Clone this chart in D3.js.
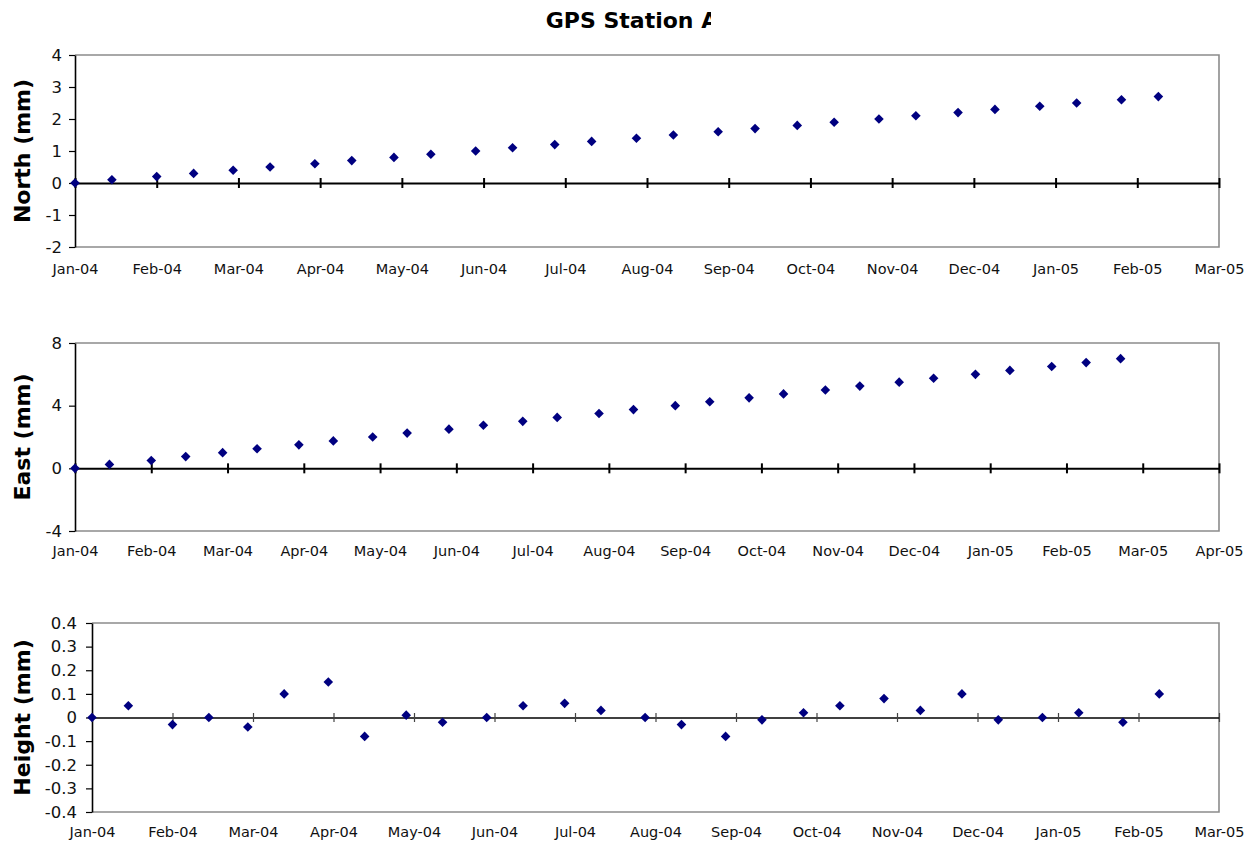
<!DOCTYPE html>
<html>
<head>
<meta charset="utf-8">
<script src="https://cdn.jsdelivr.net/npm/d3@7/dist/d3.min.js"></script>
<style>
  html, body { margin: 0; padding: 0; background: #fff; }
  svg { display: block; font-family: "DejaVu Sans", Verdana, sans-serif; }
</style>
</head>
<body>
<svg id="chart" width="1256" height="842"></svg>
<script>
// ---------------- DATA ----------------
const chartTitle = "GPS Station A";

// observation dates (1st and 15th of each month)
const datesNH = ["2004-01-01","2004-01-15","2004-02-01","2004-02-15","2004-03-01","2004-03-15",
  "2004-04-01","2004-04-15","2004-05-01","2004-05-15","2004-06-01","2004-06-15",
  "2004-07-01","2004-07-15","2004-08-01","2004-08-15","2004-09-01","2004-09-15",
  "2004-10-01","2004-10-15","2004-11-01","2004-11-15","2004-12-01","2004-12-15",
  "2005-01-01","2005-01-15","2005-02-01","2005-02-15"];
const datesE = ["2004-01-01","2004-01-15","2004-02-01","2004-02-15","2004-03-01","2004-03-15",
  "2004-04-01","2004-04-15","2004-05-01","2004-05-15","2004-06-01","2004-06-15",
  "2004-07-01","2004-07-15","2004-08-01","2004-08-15","2004-09-01","2004-09-15",
  "2004-10-01","2004-10-15","2004-11-01","2004-11-15","2004-12-01","2004-12-15",
  "2005-01-01","2005-01-15","2005-02-01","2005-02-15","2005-03-01"];

const northValues = [0, 0.1, 0.2, 0.3, 0.4, 0.5, 0.6, 0.7, 0.8, 0.9, 1.0, 1.1, 1.2, 1.3,
  1.4, 1.5, 1.6, 1.7, 1.8, 1.9, 2.0, 2.1, 2.2, 2.3, 2.4, 2.5, 2.6, 2.7];
const eastValues = [0, 0.25, 0.5, 0.75, 1.0, 1.25, 1.5, 1.75, 2.0, 2.25, 2.5, 2.75, 3.0, 3.25,
  3.5, 3.75, 4.0, 4.25, 4.5, 4.75, 5.0, 5.25, 5.5, 5.75, 6.0, 6.25, 6.5, 6.75, 7.0];
const heightValues = [0, 0.05, -0.03, 0, -0.04, 0.10, 0.15, -0.08, 0.01, -0.02, 0, 0.05,
  0.06, 0.03, 0, -0.03, -0.08, -0.01, 0.02, 0.05, 0.08, 0.03, 0.10, -0.01, 0, 0.02, -0.02, 0.10];

// x tick labels (Excel date axis, major unit 31 days starting 1 Jan 2004)
const xLabelsNH = ["Jan-04","Feb-04","Mar-04","Apr-04","May-04","Jun-04","Jul-04","Aug-04",
  "Sep-04","Oct-04","Nov-04","Dec-04","Jan-05","Feb-05","Mar-05"];
const xLabelsE = ["Jan-04","Feb-04","Mar-04","Apr-04","May-04","Jun-04","Jul-04","Aug-04",
  "Sep-04","Oct-04","Nov-04","Dec-04","Jan-05","Feb-05","Mar-05","Apr-05"];
const axisStart = "2004-01-01";
const majorUnitDays = 31;

// y ticks
const yTicksNorth = [-2, -1, 0, 1, 2, 3, 4];
const yTicksEast = [-4, 0, 4, 8];
const yTicksHeight = [-0.4, -0.3, -0.2, -0.1, 0, 0.1, 0.2, 0.3, 0.4];

const yTitles = ["North (mm)", "East (mm)", "Height (mm)"];

// ---------------- DRAW ----------------
const svg = d3.select("#chart");
const parse = d3.utcParse("%Y-%m-%d");
const start = parse(axisStart);

const panels = [
  { dates: datesNH, values: northValues, xLabels: xLabelsNH, yTicks: yTicksNorth, title: yTitles[0],
    left: 75, right: 1219, top: 55, bottom: 247, titleX: 30, xPad: 17,
    zeroW: 2, tickW: 2, tickColor: "#000", crossTick: 5, labelGap: 13 },
  { dates: datesE, values: eastValues, xLabels: xLabelsE, yTicks: yTicksEast, title: yTitles[1],
    left: 75, right: 1219, top: 343, bottom: 531, titleX: 30, xPad: 15,
    zeroW: 2, tickW: 2, tickColor: "#000", crossTick: 5, labelGap: 13 },
  { dates: datesNH, values: heightValues, xLabels: xLabelsNH, yTicks: yTicksHeight, title: yTitles[2],
    left: 92, right: 1219, top: 623, bottom: 812, titleX: 30, xPad: 15,
    zeroW: 1.5, tickW: 1.2, tickColor: "#444", crossTick: 4.5, labelGap: 15 }
];

const markerColor = "#000080";
const borderColor = "#8c8c8c";

panels.forEach(p => {
  const tickDates = p.xLabels.map((_, i) => d3.utcDay.offset(start, i * majorUnitDays));
  const x = d3.scaleUtc()
    .domain([tickDates[0], tickDates[tickDates.length - 1]])
    .range([p.left, p.right]);
  const y = d3.scaleLinear()
    .domain([p.yTicks[0], p.yTicks[p.yTicks.length - 1]])
    .range([p.bottom, p.top]);

  const g = svg.append("g");

  // frame: top, right, bottom in gray
  g.append("path")
    .attr("d", `M${p.left},${p.top}H${p.right}V${p.bottom}H${p.left}`)
    .attr("fill", "none").attr("stroke", borderColor).attr("stroke-width", 1.6);

  // y axis
  const yAxis = d3.axisLeft(y)
    .tickValues(p.yTicks)
    .tickFormat(v => String(v))
    .tickSizeInner(6).tickSizeOuter(0)
    .tickPadding(p.labelGap - 6);
  const ya = g.append("g").attr("transform", `translate(${p.left},0)`).call(yAxis);
  ya.select(".domain").attr("stroke", "#000").attr("stroke-width", 1.6);
  ya.selectAll(".tick line").attr("stroke", "#000").attr("stroke-width", 1.2);
  ya.selectAll(".tick text").attr("font-size", 16.5).attr("fill", "#111")
    .attr("font-family", "DejaVu Sans, Verdana, sans-serif");

  // zero line with crossing ticks
  const zAxis = d3.axisBottom(x)
    .tickValues(tickDates)
    .tickFormat("")
    .tickSizeInner(p.crossTick).tickSizeOuter(0);
  const za = g.append("g").attr("transform", `translate(0,${y(0)})`).call(zAxis);
  za.select(".domain").attr("stroke", "#000").attr("stroke-width", p.zeroW);
  za.selectAll(".tick line").attr("y1", -p.crossTick)
    .attr("stroke", p.tickColor).attr("stroke-width", p.tickW);

  // x labels at bottom of plot
  const lAxis = d3.axisBottom(x)
    .tickValues(tickDates)
    .tickFormat((d, i) => p.xLabels[i])
    .tickSize(0).tickPadding(p.xPad);
  const la = g.append("g").attr("transform", `translate(0,${p.bottom})`).call(lAxis);
  la.select(".domain").remove();
  la.selectAll(".tick text").attr("font-size", 14.5).attr("fill", "#111")
    .attr("font-family", "DejaVu Sans, Verdana, sans-serif");

  // y title
  g.append("text")
    .attr("transform", `translate(${p.titleX},${(p.top + p.bottom) / 2}) rotate(-90)`)
    .attr("text-anchor", "middle")
    .attr("font-size", 22).attr("font-weight", "bold").attr("fill", "#000")
    .text(p.title);

  // markers
  const r = 4.8;
  g.append("g").selectAll("path")
    .data(p.values.map((v, i) => ({ d: parse(p.dates[i]), v })))
    .join("path")
    .attr("transform", d => `translate(${x(d.d)},${y(d.v)})`)
    .attr("d", `M0,${-r}L${r},0L0,${r}L${-r},0Z`)
    .attr("fill", markerColor);
});

// title (clipped on the right as in the reference)
svg.append("defs").append("clipPath").attr("id", "titleClip")
  .append("rect").attr("x", 0).attr("y", 0).attr("width", 711).attr("height", 45);
svg.append("text")
  .attr("clip-path", "url(#titleClip)")
  .attr("x", 632).attr("y", 28)
  .attr("text-anchor", "middle")
  .attr("font-size", 22).attr("font-weight", "bold").attr("fill", "#000")
  .text(chartTitle);
</script>
</body>
</html>
